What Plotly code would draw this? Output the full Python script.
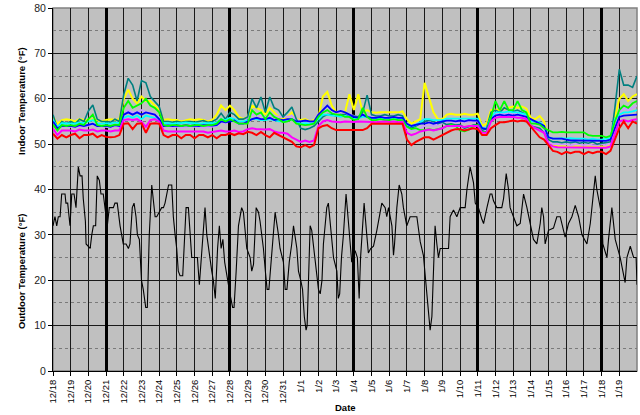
import plotly.graph_objects as go

# ---------------- data ----------------
date_labels = ["12/18", "12/19", "12/20", "12/21", "12/22", "12/23", "12/24", "12/25", "12/26",
               "12/27", "12/28", "12/29", "12/30", "12/31", "1/1", "1/2", "1/3", "1/4", "1/5",
               "1/6", "1/7", "1/8", "1/9", "1/10", "1/11", "1/12", "1/13", "1/14", "1/15",
               "1/16", "1/17", "1/18", "1/19"]
week_starts = [3, 10, 17, 24, 31]  # 12/21, 12/28, 1/4, 1/11, 1/18

# indoor readings every 6 hours (days since 12/18)
indoor_step = 0.25

yellow = [56, 54.5, 55.3, 55.5, 55.3, 55, 55.5, 55.3, 55.3, 55.5, 55.3, 55, 55.3, 55.5, 55.3, 55.5,
          60, 62, 60, 59, 60.5, 59.5, 59.5, 58.5, 57.5, 55.3, 55.5, 55.3, 55.3, 55, 55.3, 55.5,
          55.3, 55.5, 55.3, 55, 55.3, 56.5, 58.5, 57.5, 58.5, 57.5, 56, 55.5, 56, 58.5, 58, 57.5,
          56.5, 58, 57, 56, 55.5, 56, 57, 55.5, 55.3, 55.5, 55, 55.3, 56, 60.5, 61.5, 58.5,
          57, 56.5, 57, 61, 57.5, 61, 57, 57.5, 57, 56.9, 57, 57, 56.9, 57, 57, 57.2,
          55.5, 54.5, 55, 55.5, 63.5, 60, 57, 55.5, 55.5, 56.5, 56.7, 56.5, 56.5, 56.7, 56.5, 56.5,
          56.7, 54, 54.5, 57.5, 57.6, 57.5, 57.8, 58, 58.3, 58, 58.3, 57.8, 55.8, 55.5, 56.2, 55,
          51, 49.8, 49.5, 49.5, 49.5, 49.3, 49.5, 49.5, 49.3, 49.5, 49.5, 49.3, 49.5, 49.3, 50, 56,
          60, 61, 59.5, 60.5, 61]
teal = [56.5, 53.5, 55, 54.5, 55, 54.5, 55.5, 55, 57.3, 58.6, 55.5, 55, 55, 54.8, 55.5, 55,
        61, 64.5, 63, 59.5, 64, 63.5, 60.5, 59.5, 58.3, 55, 55, 54.8, 55, 54.8, 55, 55,
        54.8, 55, 55.2, 54.8, 55, 55.5, 56.8, 55.5, 57, 56.5, 55.5, 55.5, 56, 60, 58, 60.4,
        57, 60.4, 58, 57.5, 56, 57, 58.2, 55.5, 53.5, 53.2, 53.5, 54, 55, 56, 56.5, 56.5,
        56.2, 56.5, 56.5, 56, 56.2, 56, 57, 60.8, 56.5, 56.2, 56.2, 56.5, 56.2, 56.2, 56.5, 56.2,
        54, 53.5, 54, 54.5, 55, 55.3, 55, 54.5, 54.8, 54.3, 54.5, 54.2, 54.3, 53.5, 53.8, 54.2,
        54.3, 53, 53.5, 57, 57.5, 57, 58, 57.5, 57.2, 57.5, 57, 56.5, 54, 53.8, 53.5, 52.5,
        51, 50.5, 50.5, 50.3, 50.5, 50.3, 50.5, 50.2, 50.4, 50.2, 50.5, 50, 50.2, 50.3, 50.5, 58,
        66.5, 63, 63, 62.5, 65]
lavender = [55.5, 53.5, 53.8, 53.8, 53.8, 53.6, 54, 53.8, 54, 54.5, 53.8, 53.8, 53.8, 53.6, 54, 53.8,
            56.5, 57.5, 57, 57, 57.5, 57, 57, 56.5, 56, 54, 53.8, 53.8, 53.8, 53.6, 53.8, 53.8,
            53.8, 53.8, 53.6, 53.8, 53.8, 54, 55, 54.5, 55.5, 55, 54.5, 54.5, 56, 56.5, 56.5, 56.3,
            56, 56.5, 56.2, 56, 56, 56, 56.3, 55.5, 55, 55, 54.8, 55, 56, 57, 57.5, 57,
            57, 56.8, 56.5, 56.5, 56.2, 56, 56.5, 56.3, 56.2, 56, 56.2, 56.2, 56, 56.2, 56.2, 56,
            53.5, 53, 53.2, 53.5, 54, 54.2, 54, 54.3, 54.5, 55, 55, 54.8, 55, 54.8, 55, 55,
            55, 53, 53, 56, 56.7, 56.5, 56.8, 56.7, 56.7, 56.5, 56.5, 56.2, 54.5, 54.5, 54.3, 53.5,
            50.5, 50, 50, 50, 50, 49.8, 50, 50, 49.8, 50, 49.8, 49.8, 50, 49.8, 50.2, 54.5,
            57, 58, 57.5, 58, 58.5]
cyan = [55.3, 53.8, 54.6, 54.6, 54.6, 54.5, 54.8, 54.6, 55, 55.3, 54.6, 54.5, 54.6, 54.5, 54.8, 54.6,
        55.8, 56.2, 55.8, 56.3, 55.5, 56.3, 56, 55.8, 55, 54.6, 54.6, 54.5, 54.6, 54.6, 54.8, 54.6,
        54.6, 54.5, 54.6, 54.6, 54.6, 54.8, 55.5, 55.3, 55.8, 55.5, 55, 55, 55.3, 55.5, 55.5, 55.3,
        55.3, 55.5, 55.3, 55, 55, 55.3, 55.5, 55, 54.5, 54.6, 54.5, 54.6, 55.5, 56.5, 56.5, 56.3,
        56.3, 56, 56.2, 56, 55.5, 55.8, 56, 56, 55.8, 55.6, 55.8, 55.6, 55.6, 55.8, 55.6, 55.6,
        54.3, 54, 54.2, 54.8, 55.5, 55.5, 55.3, 55.3, 55.3, 55.6, 55.6, 55.5, 55.6, 55.5, 55.6, 55.6,
        55.6, 53.5, 53.5, 56, 57, 57, 57, 57.2, 57, 57, 56.8, 56.5, 55, 55, 54.8, 54,
        51.5, 51.2, 51.2, 51.3, 51.2, 51.3, 51.2, 51.2, 51.2, 51, 51.2, 51, 51, 51.2, 51.2, 55.5,
        56.5, 57, 57, 57.2, 57.5]
blue = [55, 53.5, 54, 54, 54, 53.8, 54.2, 54, 54.2, 54.5, 54, 54, 54, 53.8, 54.2, 54,
        56.5, 57, 56.5, 57, 56.5, 57, 56.8, 56.5, 55.5, 54, 54.1, 54, 54.1, 54, 54.2, 54,
        54.1, 54, 54.2, 54.1, 54.1, 54.2, 55, 54.8, 55, 55.2, 54.5, 54.5, 55, 55.5, 55.8, 55.5,
        55.5, 55.8, 55.3, 55.5, 55.3, 55.5, 55.5, 55, 55, 55.2, 55, 55, 56.5, 57.5, 58.5, 57.5,
        57, 57.3, 57, 56.5, 56, 55.8, 56.5, 56, 55.8, 55.8, 56, 55.8, 55.8, 56, 55.8, 55.8,
        54.5, 54, 54.2, 54.5, 54.5, 54.8, 54.5, 54.8, 55, 55.2, 55.2, 55, 55.2, 55, 55.3, 55.2,
        55.2, 53.5, 53.3, 55.5, 56.3, 56.5, 56.3, 56.5, 56.3, 56.5, 56.2, 56, 55.5, 55, 54.5, 54,
        51.5, 51.2, 51.2, 51.2, 51, 50.8, 50.8, 50.8, 50.8, 50.7, 50.8, 50.8, 50.8, 50.7, 51, 53.5,
        56, 56.3, 56.4, 56.5, 56.5]
green = [54.3, 53, 54.2, 54, 54.2, 54, 54.5, 54.2, 55.5, 56.5, 54.2, 54, 54.2, 54, 54.3, 54.2,
         58, 59.5, 58, 58.5, 59, 60, 58.5, 58, 57, 54.2, 54, 54.2, 54.2, 54, 54.2, 54,
         54.2, 54.2, 54, 54.2, 54.2, 54.5, 55.5, 55, 55.5, 55, 54.5, 54.5, 54.5, 57.5, 56.5, 57,
         55.5, 57, 56, 55.5, 54.8, 55, 55.5, 54.5, 54.3, 54.2, 54.3, 54.5, 56, 57, 57.5, 56.8,
         56.5, 56.5, 56, 56, 55.3, 55.5, 58, 56, 55.3, 55.3, 55.5, 55.3, 55.3, 55.5, 55.3, 55.3,
         53.8, 53.3, 53.5, 53.1, 53.1, 53.3, 53.1, 53.3, 53.5, 54, 54.3, 54, 53, 52.8, 53.2, 54,
         54.2, 52.7, 52.7, 56, 59.5, 57.5, 59.5, 57.5, 57.5, 59.5, 57.5, 57, 54.5, 54.5, 54.3, 53.5,
         53, 52.6, 52.6, 52.7, 52.6, 52.6, 52.7, 52.6, 52.6, 52, 51.8, 51.8, 51.8, 51.5, 51.8, 55,
         57.5, 58.5, 58, 59, 59.5]
magenta = [53.4, 52, 53, 53, 53, 52.8, 53.2, 53, 53, 53.2, 52.8, 53, 53, 52.8, 53, 53,
           55.3, 55.5, 55.3, 55.5, 54.9, 53.8, 55.3, 55.5, 55, 53, 52.8, 52.8, 52.8, 52.7, 52.8, 52.8,
           52.7, 52.8, 52.8, 52.5, 52.7, 52.8, 53, 52.8, 52.8, 53, 52.7, 52.8, 53.3, 53.5, 53.3, 53.3,
           53.2, 53.3, 52.8, 52.5, 52.5, 52.3, 51.5, 51, 50.5, 50.8, 50.5, 50.8, 54, 55, 55.3, 55,
           54.9, 54.8, 55, 54.9, 54.9, 55, 55, 54.9, 54.9, 54.8, 54.9, 55, 54.9, 55, 54.8, 54.9,
           52.5, 52, 52.3, 52.8, 53, 53.2, 53, 53.3, 53.5, 54, 54, 54, 54, 53.8, 54, 54,
           54, 52.5, 52.5, 55, 55.8, 56, 56, 56, 56, 55.8, 55.8, 55.5, 54, 53.5, 53, 52.5,
           50, 49.5, 49.3, 49.3, 49.3, 49.2, 49.3, 49.3, 49.3, 49.2, 49.3, 49.2, 49.3, 49.2, 49.5, 52.5,
           55, 55.3, 55, 55.3, 55.5]
red = [52.3, 51.2, 52, 51.5, 52, 52.3, 51.3, 52, 52, 52.3, 51.5, 52, 51.6, 51.5, 51.6, 52,
       54.5, 54.6, 53.3, 54.5, 54.6, 52.5, 54.5, 54.6, 54.5, 52, 51.5, 52, 52, 51.3, 52, 52,
       51.3, 52, 52, 51.5, 52, 51.3, 52, 52, 52.4, 52, 52.4, 52.2, 52.7, 52.5, 52, 52.7,
       52, 51.5, 52.5, 52, 51.5, 51, 50.5, 49.5, 49.3, 49.8, 49.3, 49.8, 53.5, 54, 54.2, 53.5,
       53.1, 53.1, 53.1, 53.1, 53.1, 53.1, 53.1, 53.5, 54.5, 54.5, 54.5, 54.6, 54.5, 54.6, 54.5, 54.5,
       51, 49.8, 50.5, 51, 51.5, 51.5, 51, 51.5, 52, 52.5, 53, 53.3, 53.3, 53, 53.3, 53.5,
       53.3, 52, 52, 53.5, 54.2, 54.8, 54.8, 55, 55.2, 55, 55.2, 55, 53.8, 52.5, 51.5, 51,
       49.8, 48.5, 48.3, 47.8, 48.3, 48, 48.3, 48.3, 47.8, 48.3, 48, 48.3, 48.3, 47.8, 48.5, 51,
       53.5, 55, 53.5, 55, 54.5]

# outdoor readings (day since 12/18, temperature)
outdoor_day = [0.00, 0.11, 0.21, 0.30, 0.40, 0.49, 0.68, 0.73, 0.83, 0.88, 0.96, 1.06, 1.19, 1.30, 1.43,
               1.53, 1.64, 1.71, 1.83, 1.87, 2.00, 2.10, 2.19, 2.28, 2.41, 2.50, 2.62, 2.71, 2.84, 2.92,
               3.00, 3.07, 3.18, 3.41, 3.50, 3.63, 3.69, 3.79, 3.97, 4.13, 4.26, 4.35, 4.48, 4.58, 4.69,
               4.77, 4.88, 5.00, 5.10, 5.24, 5.33, 5.44, 5.58, 5.67, 5.77, 5.86, 6.01, 6.14, 6.24, 6.33,
               6.43, 6.53, 6.71, 6.80, 6.90, 6.99, 7.08, 7.18, 7.33, 7.42, 7.52, 7.65, 7.74, 7.84, 8.03,
               8.16, 8.27, 8.35, 8.46, 8.59, 8.69, 8.78, 8.88, 8.97, 9.06, 9.17, 9.30, 9.40, 9.50, 9.60,
               9.70, 9.85, 10.00, 10.15, 10.23, 10.35, 10.48, 10.66, 10.76, 10.95, 11.14, 11.23, 11.33, 11.48, 11.61,
               11.70, 11.89, 12.00, 12.10, 12.20, 12.35, 12.46, 12.55, 12.74, 12.83, 13.02, 13.12, 13.22, 13.35, 13.49,
               13.59, 13.78, 13.87, 14.00, 14.10, 14.20, 14.30, 14.36, 14.45, 14.53, 14.62, 14.81, 14.91, 15.00, 15.10,
               15.20, 15.28, 15.47, 15.56, 15.66, 15.85, 16.04, 16.12, 16.20, 16.30, 16.41, 16.56, 16.69, 16.79, 16.88,
               16.98, 17.07, 17.20, 17.30, 17.38, 17.48, 17.58, 17.73, 17.82, 17.95, 18.11, 18.30, 18.49, 18.58, 18.77,
               18.86, 18.96, 19.15, 19.24, 19.30, 19.43, 19.56, 19.71, 19.80, 19.99, 20.18, 20.56, 20.75, 20.93, 21.03,
               21.22, 21.31, 21.41, 21.50, 21.59, 21.69, 21.78, 21.88, 22.35, 22.44, 22.63, 22.82, 23.01, 23.29, 23.39,
               23.57, 23.67, 23.76, 23.86, 24.04, 24.23, 24.33, 24.52, 24.70, 24.80, 24.89, 25.08, 25.36, 25.46, 25.61,
               25.74, 25.83, 26.02, 26.21, 26.40, 26.50, 26.59, 26.78, 26.96, 27.15, 27.34, 27.53, 27.62, 27.72, 27.81,
               28.00, 28.28, 28.47, 28.66, 28.85, 28.94, 29.13, 29.32, 29.51, 29.70, 29.89, 30.17, 30.36, 30.45, 30.64,
               30.73, 30.92, 31.02, 31.07, 31.30, 31.39, 31.58, 31.77, 32.05, 32.33, 32.43, 32.62, 32.81, 32.95, 33.00]
outdoor_temp = [32, 34, 32, 34, 34, 39, 39, 37, 37, 34.5, 32, 39, 39, 36, 45,
                43, 43, 38, 33, 28, 27.5, 27, 30, 32, 32, 43, 42, 39, 39, 36,
                34, 32, 36, 36, 37, 37, 34.5, 32, 28, 28, 27, 28, 36, 37, 34,
                30, 29, 20, 18, 14, 14, 30, 41, 38, 34, 34, 35, 36, 36, 37,
                39, 41, 41, 34, 30, 27, 22, 21, 21, 27, 36, 36, 30, 25, 25,
                25, 19, 23, 30, 36, 30, 27, 25, 22, 20, 16, 27, 32, 27, 29,
                24, 20, 17, 14, 14, 22, 32, 36, 35, 27, 25, 22, 23.5, 36, 35,
                33, 27, 22, 18, 18, 25, 30, 35, 30, 27, 24, 18, 18, 24, 28,
                32, 27, 22, 20, 18, 12, 9, 10, 25, 32, 31, 25, 21, 18, 17,
                20, 28, 36, 37, 33, 25, 22, 16, 17, 25, 30, 39, 33, 28, 24,
                26, 26.5, 25, 16, 25, 32, 37, 30, 26, 27, 27.5, 31, 35, 37, 36,
                34, 36, 32, 25.5, 28, 36, 41, 39, 36, 32, 34, 34, 28.5, 25.5, 21,
                12, 9, 12, 24, 32, 28, 25, 27, 27, 34, 35.5, 34, 36, 36, 40,
                45, 43.5, 41.5, 37, 36, 33.5, 32.5, 36, 39, 39, 37.5, 36, 36, 38, 43.5,
                40, 36, 34, 32, 32.5, 36, 39, 36, 32.5, 29, 28, 32.5, 36, 34, 28,
                31, 31.5, 34, 34, 31, 29.5, 32.5, 34, 36.5, 34, 30, 28, 32.5, 36, 43,
                40, 36, 34, 28, 25, 29, 36, 29, 25, 19.5, 25, 27.5, 25, 25, 19]

# ---------------- figure ----------------
x_in = [i * indoor_step for i in range(len(red))]

fig = go.Figure()
indoor = [("Yellow", yellow, "#FFFF00", 2), ("Lavender", lavender, "#CC99FF", 1.8),
          ("Teal", teal, "#008080", 1.6), ("Cyan", cyan, "#00FFFF", 1.8), ("Blue", blue, "#0000FF", 1.8),
          ("Green", green, "#00FF00", 1.8), ("Magenta", magenta, "#FF00FF", 2), ("Red", red, "#FF0000", 2)]
for name, vals, col, w in indoor:
    fig.add_trace(go.Scatter(x=x_in, y=vals, mode="lines", name=name,
                             line=dict(color=col, width=w)))
fig.add_trace(go.Scatter(x=outdoor_day, y=outdoor_temp, mode="lines", name="Outdoor",
                         line=dict(color="#000000", width=1.1)))

font = "Liberation Sans, Arial, sans-serif"
fig.update_layout(
    width=640, height=415,
    margin=dict(l=53, r=3, t=8, b=44),
    paper_bgcolor="white", plot_bgcolor="#C0C0C0",
    showlegend=False,
    font=dict(family=font, size=10, color="#000000"),
    xaxis=dict(range=[0, 33], tickvals=list(range(len(date_labels))), ticktext=date_labels,
               tickangle=-90, tickfont=dict(size=9.5), showgrid=True, gridcolor="#1a1a1a", gridwidth=1,
               ticks="outside", ticklen=4, tickcolor="#000", showline=True, linecolor="#000",
               linewidth=1, zeroline=False),
    xaxis2=dict(range=[0, 33], overlaying="x", tickvals=week_starts, showticklabels=False,
                showgrid=True, gridcolor="#000000", gridwidth=2.5, ticks="", zeroline=False,
                showline=False),
    yaxis=dict(range=[0, 80], dtick=10, tickfont=dict(size=10.5, color="#222"), showgrid=True,
               gridcolor="#1a1a1a", gridwidth=1, ticks="outside", ticklen=4, tickcolor="#000",
               showline=True, linecolor="#000", linewidth=1, zeroline=False,
               minor=dict(dtick=5, showgrid=True, gridcolor="#7a7a7a", griddash="dot", gridwidth=1)),
    shapes=[dict(type="rect", xref="paper", yref="paper", x0=0, x1=1, y0=0, y1=1,
                 line=dict(color="#808080", width=1.5), fillcolor="rgba(0,0,0,0)", layer="below")],
    annotations=[
        dict(text="<b>Indoor Temperature (°F)</b>", xref="paper", x=-0.055, yref="y", y=59.5,
             textangle=-90, showarrow=False, font=dict(size=9.5), xanchor="center", yanchor="middle"),
        dict(text="<b>Outdoor Temperature (°F)</b>", xref="paper", x=-0.055, yref="y", y=22,
             textangle=-90, showarrow=False, font=dict(size=9.5), xanchor="center", yanchor="middle"),
        dict(text="<b>Date</b>", xref="paper", x=0.5, yref="paper", y=-0.1,
             showarrow=False, font=dict(size=9.5), xanchor="center", yanchor="middle"),
    ],
)
# dummy trace to activate overlay axis
fig.add_trace(go.Scatter(x=[0], y=[None], xaxis="x2", showlegend=False, hoverinfo="skip"))

fig.write_html("out.html", config={"displayModeBar": False},
               post_script="document.body.style.margin='0px';")
